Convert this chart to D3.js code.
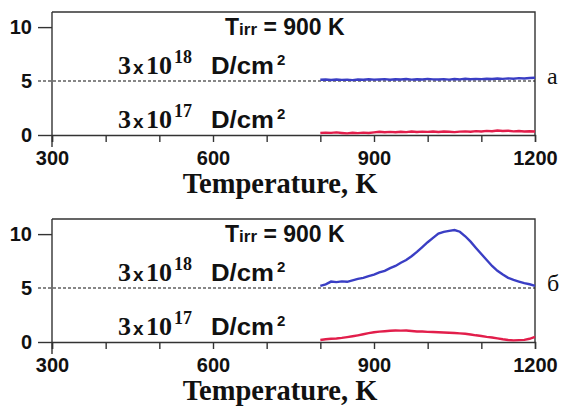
<!DOCTYPE html>
<html>
<head>
<meta charset="utf-8">
<script src="https://cdn.jsdelivr.net/npm/d3@7"></script>
<style>
  body { margin: 0; background: #fff; }
  .tick text { font-family: "Liberation Sans", Arial, sans-serif; font-weight: bold; font-size: 20px; fill: #111; }
</style>
</head>
<body>
<svg id="chart"></svg>
<script>
// temperature grid shared by all traces (K)
const temps = [800, 810, 820, 830, 840, 850, 860, 870, 880, 890, 900, 910, 920, 930, 940, 950, 960, 970, 980, 990,
  1000, 1010, 1020, 1030, 1040, 1050, 1060, 1070, 1080, 1090, 1100, 1110, 1120, 1130, 1140, 1150, 1160, 1170, 1180, 1190, 1200];

// panel a
const aHigh = [5.12, 5.15, 5.1, 5.14, 5.11, 5.13, 5.09, 5.14, 5.12, 5.16, 5.13, 5.15, 5.18, 5.12, 5.16, 5.14, 5.19, 5.13, 5.17, 5.15,
  5.2, 5.16, 5.14, 5.18, 5.13, 5.19, 5.16, 5.21, 5.17, 5.2, 5.18, 5.22, 5.19, 5.24, 5.2, 5.25, 5.22, 5.27, 5.24, 5.28, 5.3];
const aLow = [0.18, 0.22, 0.2, 0.24, 0.19, 0.15, 0.21, 0.17, 0.22, 0.19, 0.24, 0.3, 0.26, 0.29, 0.25, 0.3, 0.27, 0.32, 0.28, 0.31,
  0.29, 0.33, 0.28, 0.32, 0.3, 0.27, 0.31, 0.34, 0.3, 0.36, 0.32, 0.38, 0.35, 0.42, 0.37, 0.4, 0.34, 0.37, 0.33, 0.35, 0.32];

// panel b
const bHigh = [5.2, 5.35, 5.6, 5.55, 5.62, 5.58, 5.72, 5.85, 5.95, 6.1, 6.25, 6.45, 6.6, 6.85, 7.05, 7.35, 7.6, 7.95, 8.35, 8.8,
  9.25, 9.65, 10.05, 10.2, 10.3, 10.38, 10.22, 9.8, 9.3, 8.72, 8.15, 7.6, 7.05, 6.6, 6.25, 5.95, 5.75, 5.6, 5.45, 5.35, 5.2];
const bLow = [0.19, 0.25, 0.3, 0.33, 0.38, 0.45, 0.53, 0.62, 0.72, 0.82, 0.9, 0.96, 1.0, 1.04, 1.06, 1.05, 1.07, 1.02, 0.98, 0.97,
  0.94, 0.92, 0.9, 0.88, 0.86, 0.83, 0.8, 0.76, 0.7, 0.62, 0.56, 0.48, 0.42, 0.34, 0.25, 0.18, 0.15, 0.17, 0.2, 0.3, 0.48];

const xTicks = [300, 400, 500, 600, 700, 800, 900, 1000, 1100, 1200];
const xLabels = [300, 600, 900, 1200];
const yTicks = [0, 5, 10];
const panels = [
  { name: "а", high: aHigh, low: aLow },
  { name: "б", high: bHigh, low: bLow }
];

const W = 562, H = 409;
const svg = d3.select("#chart").attr("width", W).attr("height", H);
svg.append("rect").attr("width", W).attr("height", H).attr("fill", "#fff");

const x = d3.scaleLinear().domain([300, 1200]).range([52, 535]);

panels.forEach((p, i) => {
  const off = i * 207;
  const g = svg.append("g").attr("transform", `translate(0,${off})`);
  const y = d3.scaleLinear().domain([0, 11.4]).range([135, 12]);

  // box (top + right)
  g.append("path")
    .attr("d", `M${x(300)},${y(11.4)}H${x(1200)}V${y(0)}`)
    .attr("fill", "none").attr("stroke", "#333").attr("stroke-width", 1.4);

  // dashed reference at 5
  g.append("line")
    .attr("x1", 38).attr("x2", x(1200))
    .attr("y1", y(5)).attr("y2", y(5))
    .attr("stroke", "#111").attr("stroke-width", 1.1).attr("stroke-dasharray", "3,2");

  const xAxis = g.append("g")
    .attr("transform", `translate(0,${y(0)})`)
    .call(d3.axisBottom(x).tickValues(xTicks).tickSize(7).tickPadding(9)
      .tickFormat(d => xLabels.includes(d) ? d : ""));
  xAxis.select(".domain").attr("stroke", "#333").attr("stroke-width", 1.4);
  xAxis.selectAll(".tick line").attr("stroke", "#333").attr("stroke-width", 1.4);

  const yAxis = g.append("g")
    .attr("transform", `translate(${x(300)},0)`)
    .call(d3.axisLeft(y).tickValues(yTicks).tickSize(14).tickPadding(6).tickSizeOuter(0));
  yAxis.select(".domain").attr("stroke", "#333").attr("stroke-width", 1.4)
    .attr("d", `M0,${y(11.4)}V${y(0) + 12}`);
  yAxis.selectAll(".tick line").attr("stroke", "#333").attr("stroke-width", 1.4)
    .filter(d => d === 5).attr("stroke", "none");

  const line = d3.line().x((d, k) => x(temps[k])).y(d => y(d));
  g.append("path").datum(p.high).attr("d", line)
    .attr("fill", "none").attr("stroke", "#3a3ec4").attr("stroke-width", 2.4);
  g.append("path").datum(p.low).attr("d", line)
    .attr("fill", "none").attr("stroke", "#e21e4b").attr("stroke-width", 2.4);

  // Tirr label
  const t = g.append("text").attr("y", 35)
    .attr("font-family", "Liberation Sans, Arial, sans-serif").attr("font-weight", "bold").attr("fill", "#111");
  t.append("tspan").attr("x", 225).attr("font-size", 23).text("T");
  t.append("tspan").attr("font-size", 17).text("irr");
  t.append("tspan").attr("font-size", 23).text(" = 900 K");

  // fluence labels
  [["18", 74], ["17", 128]].forEach(([exp, base]) => {
    const lab = g.append("g").attr("fill", "#111");
    lab.append("text").attr("x", 118).attr("y", base)
      .attr("font-family", "Liberation Serif, Times New Roman, serif").attr("font-weight", "bold")
      .attr("font-size", 26).text("3");
    lab.append("text").attr("x", 133).attr("y", base)
      .attr("font-family", "Liberation Sans, Arial, sans-serif").attr("font-weight", "bold")
      .attr("font-size", 19).text("x");
    lab.append("text").attr("x", 146).attr("y", base)
      .attr("font-family", "Liberation Serif, Times New Roman, serif").attr("font-weight", "bold")
      .attr("font-size", 26).text("10");
    lab.append("text").attr("x", 174).attr("y", base - 11)
      .attr("font-family", "Liberation Serif, Times New Roman, serif").attr("font-weight", "bold")
      .attr("font-size", 18).text(exp);
    lab.append("text").attr("x", 211).attr("y", base)
      .attr("font-family", "Liberation Sans, Arial, sans-serif").attr("font-weight", "bold").attr("font-size", 23)
      .attr("textLength", 63).attr("lengthAdjust", "spacingAndGlyphs").text("D/cm");
    lab.append("text").attr("x", 277).attr("y", base - 9)
      .attr("font-family", "Liberation Sans, Arial, sans-serif").attr("font-weight", "bold").attr("font-size", 15).text("2");
  });

  // panel letter
  g.append("text").attr("x", 547).attr("y", 84)
    .attr("font-family", "Liberation Serif, Times New Roman, serif").attr("font-size", 24).attr("fill", "#111")
    .text(p.name);

  // x axis title
  g.append("text").attr("x", 280).attr("y", 193).attr("text-anchor", "middle")
    .attr("font-family", "Liberation Serif, Times New Roman, serif").attr("font-weight", "bold")
    .attr("font-size", 28.5).attr("fill", "#111")
    .text("Temperature, K");
});
</script>
</body>
</html>
